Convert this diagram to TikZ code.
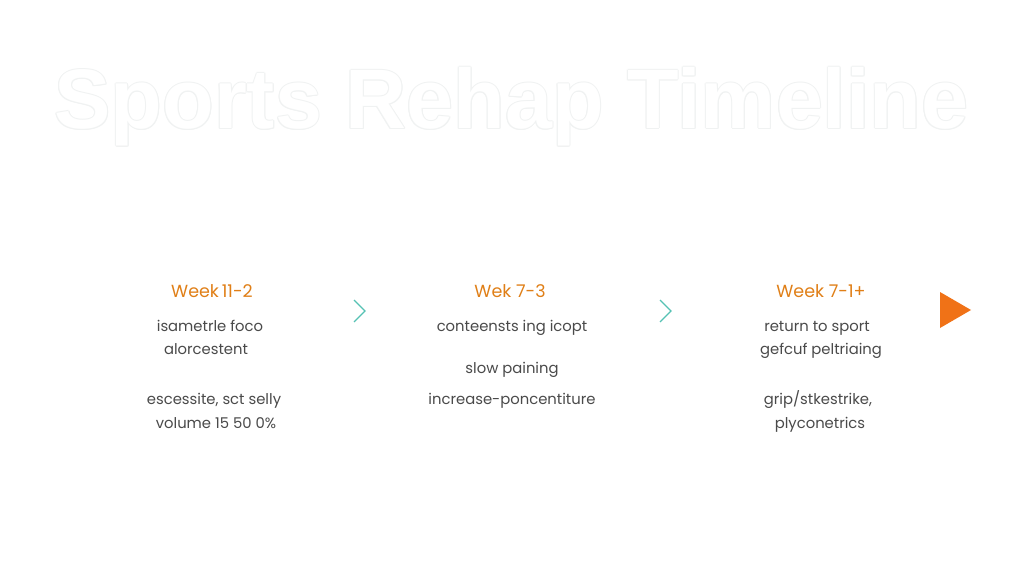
\documentclass[tikz,border=0pt]{standalone}
\usepackage{fontspec}
\setmainfont{Poppins}
\newfontfamily\titlefont{Liberation Sans}
\definecolor{weekorange}{HTML}{E07F17}
\definecolor{bodygray}{HTML}{4A4A4A}
\definecolor{chevteal}{HTML}{55C2B4}
\definecolor{arroworange}{HTML}{F07217}
\definecolor{outlinegray}{HTML}{F0F2F2}
\tikzset{
  week/.style={font=\fontsize{17.5}{20}\selectfont, text=weekorange, inner sep=0pt, anchor=base},
  body/.style={font=\fontsize{14.8}{17}\selectfont, text=bodygray, inner sep=0pt, anchor=base},
  chev/.style={draw=chevteal, line width=1.2pt},
  titleshadow/.style={font=\titlefont\bfseries\fontsize{84.5}{95}\selectfont, text=outlinegray, inner sep=0pt, anchor=base},
  titletext/.style={font=\titlefont\bfseries\fontsize{84.5}{95}\selectfont, text=white, inner sep=0pt, anchor=base}
}
\begin{document}
\begin{tikzpicture}[x=1pt,y=-1pt]
\useasboundingbox[fill=white] (0,0) rectangle (1024,585);
% title with faint outline
\foreach \dx/\dy in {1/0,-1/0,0/1,0/-1,0.7/0.7,-0.7/0.7,0.7/-0.7,-0.7/-0.7}{
  \node[titleshadow] at (511.5+\dx,129+\dy) {Sports Rehap Timeline};
}
\node[titletext] (title) at (511.5,129) {Sports Rehap Timeline};
% column 1
\node[week] (w1) at (212,297) {Week\,11-2};
\node[body] (a1) at (210,331) {isametrle foco};
\node[body] (a2) at (206,354) {alorcestent};
\node[body] (a3) at (214,404) {escessite, sct selly};
\node[body] (a4) at (216,428) {volume 15 50 0\%};
% column 2
\node[week] (w2) at (510,297) {Wek 7-3};
\node[body] (b1) at (512,331) {conteensts ing icopt};
\node[body] (b2) at (512,373) {slow paining};
\node[body] (b3) at (512,404) {increase-poncentiture};
% column 3
\node[week] (w3) at (821,297) {Week 7-1+};
\node[body] (c1) at (817,331) {return to sport};
\node[body] (c2) at (821,354) {gefcuf peltriaing};
\node[body] (c3) at (818,404) {grip/stkestrike,};
\node[body] (c4) at (820,428) {plyconetrics};
% chevrons
\coordinate (ch1) at (359,311);
\coordinate (ch2) at (665,311);
\draw[chev] ([shift={(-5,-11)}]ch1) -- ([shift={(6,0)}]ch1) -- ([shift={(-5,11)}]ch1);
\draw[chev] ([shift={(-5,-11)}]ch2) -- ([shift={(6,0)}]ch2) -- ([shift={(-5,11)}]ch2);
% end arrow
\coordinate (endarrow) at (955,310);
\fill[arroworange] ([shift={(-15,-18)}]endarrow) -- ([shift={(16,0)}]endarrow) -- ([shift={(-15,18)}]endarrow) -- cycle;
\end{tikzpicture}
\end{document}
